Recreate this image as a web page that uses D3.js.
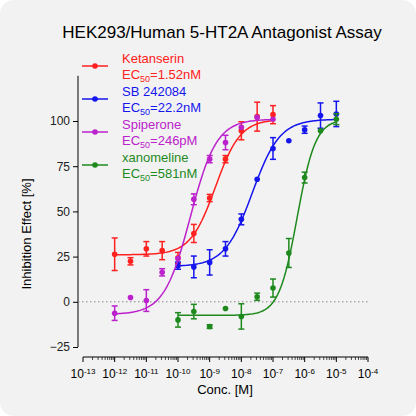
<!DOCTYPE html>
<html><head><meta charset="utf-8">
<script src="https://cdn.jsdelivr.net/npm/d3@7"></script>
<style>body{margin:0;background:#fff}svg{display:block;font-family:Arial,"Liberation Sans",sans-serif}</style>
</head><body><svg width="416" height="416"></svg>
<script>
const names = ["Ketanserin", "SB 242084", "Spiperone", "xanomeline"];
const ec50Labels = ["1.52nM", "22.2nM", "246pM", "581nM"];
const colors = ["#ff2020", "#1515ee", "#bb22cc", "#1e8a1e"];
const startLog = [-12, -10, -12, -10];
const means = [
  [26.3, 22.4, 29.3, 28.3, 24.3, 37.8, 57.4, 78.9, 94.6, 102.4, 103.5],
  [20, 19.3, 21.8, 29.3, 45.6, 67.8, 84.8, 89.1, 95.2, 103, 103.9],
  [-6.3, 2.4, 0.7, 16.3, 23.9, 56.7, 78.9, 88.1, 96.5, 102, 101],
  [-10, -5.4, -13.7, -3.7, -8.1, 2.8, 7.6, 27, 68.7, 94.6, 101]
];
const errs = [
  [9, 2, 4, 5, 3, 5, 2, 2, 5, 8, 5],
  [2, 6, 7, 4, 3, 0, 6, 0, 2, 7, 7],
  [4, 0, 6, 2, 0, 3, 2, 4, 0, 0, 0],
  [4, 4, 1, 0, 7, 2, 5, 8, 3, 0, 3]
];
const fitBottom = [26, 19.5, -7, -7.5];
const fitTop = [101, 101, 101, 101];
const fitLogEC = [Math.log10(1.52e-9), Math.log10(2.22e-8), Math.log10(2.46e-10), Math.log10(5.81e-7)];
const fitHill = [1.1, 1.0, 1.05, 1.5];
const yTicks = [-25, 0, 25, 50, 75, 100];

const svg = d3.select("svg");
svg.append("rect").attr("width", 416).attr("height", 416).attr("rx", 14).attr("fill", "#f2f2f2");

const x = d3.scaleLinear().domain([-13, -4]).range([83, 368]);
const y = d3.scaleLinear().domain([-25, 100]).range([347, 121]);

svg.append("text").attr("x", 222).attr("y", 38).attr("text-anchor", "middle")
  .attr("font-size", 17).text("HEK293/Human 5-HT2A Antagonist Assay");

// y axis
const ya = svg.append("g").attr("transform", "translate(78,0)")
  .call(d3.axisLeft(y).tickValues(yTicks).tickSize(5).tickPadding(3));
ya.select(".domain").attr("d", `M0,${y(-25)}V${y(125)}`);
ya.selectAll("text").attr("font-size", 12).attr("fill", "#222");
svg.append("text").attr("transform", "translate(31,234) rotate(-90)").attr("text-anchor", "middle")
  .attr("font-size", 13).text("Inhibition Effect [%]");

// x axis
const gx = svg.append("g").attr("transform", "translate(0,357)");
gx.append("line").attr("x1", x(-13)).attr("x2", x(-4)).attr("stroke", "#000");
for (let d = -13; d <= -4; d++) {
  gx.append("line").attr("x1", x(d)).attr("x2", x(d)).attr("y2", 5).attr("stroke", "#000");
  if (d < -4) for (let k = 2; k < 10; k++) {
    const xv = x(d + Math.log10(k));
    gx.append("line").attr("x1", xv).attr("x2", xv).attr("y2", 3).attr("stroke", "#000").attr("stroke-width", 0.7);
  }
  const t = gx.append("text").attr("x", x(d)).attr("y", 21).attr("text-anchor", "middle").attr("font-size", 12);
  t.append("tspan").text("10");
  t.append("tspan").attr("dy", -4).attr("font-size", 8).text(d);
}
svg.append("text").attr("x", 225).attr("y", 394).attr("text-anchor", "middle").attr("font-size", 13).text("Conc. [M]");

// zero line
svg.append("line").attr("x1", 78).attr("x2", 368).attr("y1", y(0)).attr("y2", y(0))
  .attr("stroke", "#888").attr("stroke-dasharray", "1.5,2.5");

const line = d3.line().x(d => x(d[0])).y(d => y(d[1]));
names.forEach((n, i) => {
  const c = colors[i];
  const curve = d3.range(startLog[i], startLog[i] + 5.001, 0.05).map(l =>
    [l, fitBottom[i] + (fitTop[i] - fitBottom[i]) / (1 + Math.pow(10, (fitLogEC[i] - l) * fitHill[i]))]);
  svg.append("path").attr("d", line(curve)).attr("fill", "none").attr("stroke", c).attr("stroke-width", 1.5);
  const g = svg.append("g").attr("stroke", c).attr("fill", c);
  means[i].forEach((m, j) => {
    const l = startLog[i] + j * 0.5, xv = x(l);
    const e = errs[i][j];
    if (e > 0) {
      g.append("line").attr("x1", xv).attr("x2", xv).attr("y1", y(m - e)).attr("y2", y(m + e)).attr("stroke-width", 1.5);
      [m - e, m + e].forEach(v => g.append("line").attr("x1", xv - 3).attr("x2", xv + 3).attr("y1", y(v)).attr("y2", y(v)).attr("stroke-width", 1.5));
    }
    g.append("circle").attr("cx", xv).attr("cy", y(m)).attr("r", 2.8).attr("stroke", "none");
  });
  // legend
  const ly = 66 + i * 33;
  svg.append("line").attr("x1", 82).attr("x2", 108).attr("y1", ly).attr("y2", ly).attr("stroke", c).attr("stroke-width", 1.5);
  svg.append("circle").attr("cx", 95).attr("cy", ly).attr("r", 2.8).attr("fill", c);
  svg.append("text").attr("x", 122).attr("y", ly - 3).attr("font-size", 13).attr("fill", c).text(n);
  const t = svg.append("text").attr("x", 122).attr("y", ly + 13).attr("font-size", 13).attr("fill", c);
  t.append("tspan").text("EC");
  t.append("tspan").attr("dy", 3).attr("font-size", 9).text("50");
  t.append("tspan").attr("dy", -3).text("=" + ec50Labels[i]);
});
</script></body></html>
